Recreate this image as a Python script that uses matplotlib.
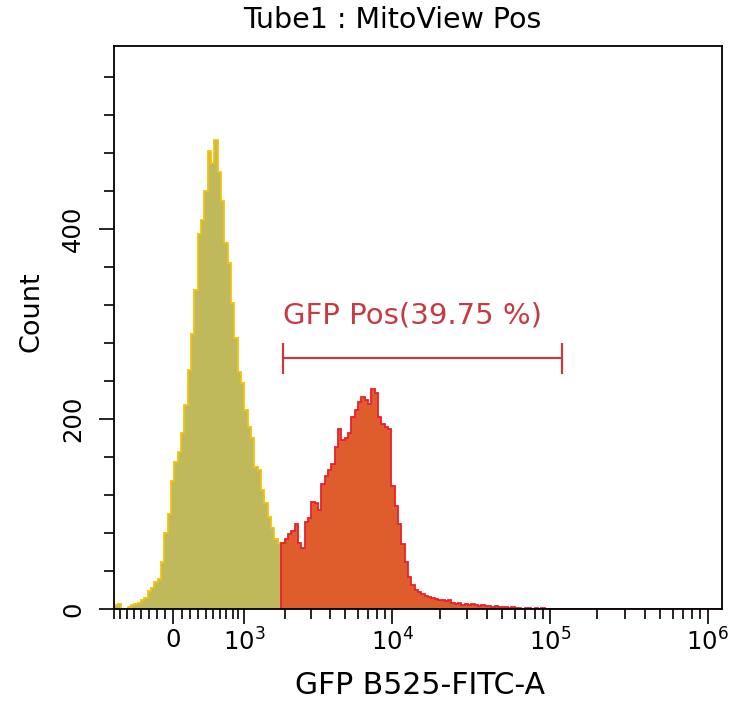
import numpy as np
import matplotlib
matplotlib.use('Agg')
import matplotlib.pyplot as plt
from matplotlib.ticker import FixedLocator, FixedFormatter, MultipleLocator

plt.rcParams['font.family'] = ['DejaVu Sans']
plt.rcParams['mathtext.default'] = 'regular'

# Axis range (fluorescence units) and the acquisition channel grid
x_range = [-800, 1.23e6]
cofactor = 820
n_channels = 182

# Counts per channel (channels past the list are empty)
counts = [4, 5, 0, 0, 2, 4, 5, 6, 9, 12, 19, 22, 28, 32, 50, 80, 100, 135, 155, 165,
          185, 215, 252, 290, 336, 395, 410, 440, 482, 470, 494, 460, 430, 385, 364,
          322, 285, 250, 238, 210, 192, 180, 150, 146, 125, 112, 97, 85, 74, 70,
          69, 74, 79, 82, 90, 70, 64, 92, 96, 113, 112, 104, 132, 140, 146, 153, 171,
          190, 178, 180, 185, 202, 210, 218, 223, 220, 216, 232, 227, 202, 195, 192,
          190, 130, 108, 90, 68, 50, 34, 25, 20, 18, 16, 14, 13, 12, 11, 9, 10, 8, 9,
          6, 5, 6, 4, 5, 4, 5, 4, 3, 4, 3, 3, 2, 3, 2, 2, 2, 1, 2, 1, 1, 0, 1, 1, 0,
          1, 0, 1]

gate_name = 'GFP Pos'
gate_pct = 39.75
gate_range = [1940, 120000]
gate_y = 264

major_ticks = [0, 1e3, 1e4, 1e5, 1e6]
major_labels = ['0', '$10^3$', '$10^4$', '$10^5$', '$10^6$']
minor_ticks = ([-100 * k for k in range(1, 9)] + [100 * k for k in range(1, 10)]
               + [m * 10 ** e for e in (3, 4, 5) for m in range(2, 10)])


def fwd(x):
    return np.arcsinh(np.asarray(x, dtype=float) / cofactor)


def inv(t):
    return cofactor * np.sinh(t)


# channel edges: uniform in transformed space
t_lo, t_hi = fwd(x_range[0]), fwd(x_range[1])
edges = inv(np.linspace(t_lo, t_hi, n_channels + 1))
values = np.zeros(n_channels)
values[:len(counts)] = counts
split = int(np.argmin(np.abs(edges - gate_range[0])))

fig = plt.figure(figsize=(7.37, 7.01), dpi=100)
ax = fig.add_axes([114.3 / 737, 1 - 609 / 701, 607.4 / 737, 563 / 701])
ax.set_xscale('function', functions=(fwd, inv))

# ungated part of the histogram
ax.stairs(values[:split + 1], edges[:split + 2], fill=True, color='#bfb95b', lw=0)
ax.stairs(values[:split + 1], edges[:split + 2], color='#f4c20d', lw=1.3)
# gated part
ax.stairs(values[split:], edges[split:], fill=True, color='#df5c2c', lw=0)
ax.stairs(values[split:], edges[split:], color='#e6222b', lw=1.3)

# gate marker
gc = '#c63a42'
ax.hlines(gate_y, gate_range[0], gate_range[1], color=gc, lw=1.6)
ax.vlines(gate_range, gate_y - 16, gate_y + 16, color=gc, lw=1.6)
ax.text(gate_range[0], gate_y + 45, f'{gate_name}({gate_pct:.2f} %)', color=gc,
        fontsize=21, ha='left', va='center')

ax.set_xlim(x_range)
ax.set_ylim(0, 593)
ax.xaxis.set_major_locator(FixedLocator(major_ticks))
ax.xaxis.set_major_formatter(FixedFormatter(major_labels))
ax.xaxis.set_minor_locator(FixedLocator(minor_ticks))
ax.yaxis.set_major_locator(MultipleLocator(200))
ax.yaxis.set_minor_locator(MultipleLocator(40))

ax.tick_params(which='major', length=11, width=1.2, labelsize=17.5, color='black')
ax.tick_params(which='minor', length=7.5, width=1.2)
ax.tick_params(axis='x', which='major', pad=3)
ax.tick_params(axis='y', which='major', labelrotation=90, pad=10)
for lbl in ax.get_yticklabels():
    lbl.set_va('center')
for s in ax.spines.values():
    s.set_linewidth(1.3)

fig.text(392 / 737, 1 - 20 / 701, 'Tube1 : MitoView Pos', fontsize=20.5,
         ha='center', va='center')
fig.text(31 / 737, 1 - 312 / 701, 'Count', fontsize=19.5, rotation=90,
         ha='center', va='center')
fig.text(420 / 737, 1 - 686 / 701, 'GFP B525-FITC-A', fontsize=21.5,
         ha='center', va='center')

fig.savefig('out.png', dpi=100)
